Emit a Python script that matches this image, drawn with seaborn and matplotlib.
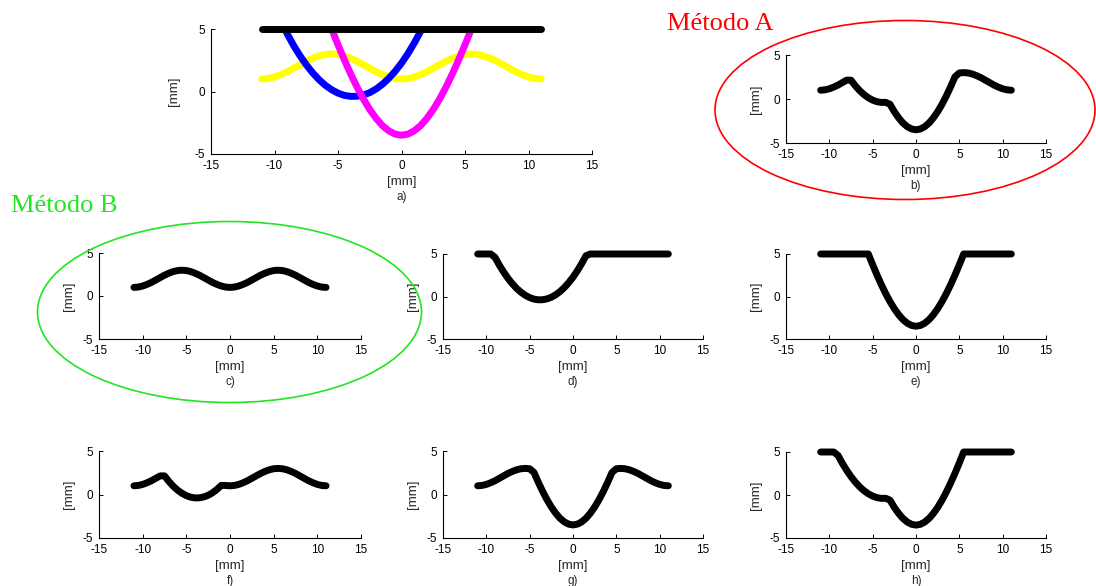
import numpy as np
import pandas as pd
import matplotlib
matplotlib.use("Agg")
import matplotlib.pyplot as plt
from matplotlib.patches import Ellipse
import seaborn as sns

# ---------------- data ----------------
nan = float("nan")
x_mm = [-11.0, -10.5, -10.0, -9.5, -9.0, -8.5, -8.0, -7.5, -7.0, -6.5, -6.0,
        -5.5, -5.0, -4.5, -4.0, -3.5, -3.0, -2.5, -2.0, -1.5, -1.0, -0.5,
        0.0, 0.5, 1.0, 1.5, 2.0, 2.5, 3.0, 3.5, 4.0, 4.5, 5.0, 5.5, 6.0,
        6.5, 7.0, 7.5, 8.0, 8.5, 9.0, 9.5, 10.0, 10.5, 11.0]

yellow_profile = [1.00, 1.04, 1.16, 1.35, 1.58, 1.86, 2.14, 2.42, 2.65, 2.84, 2.96,
                  3.00, 2.96, 2.84, 2.65, 2.42, 2.14, 1.86, 1.58, 1.35, 1.16, 1.04,
                  1.00, 1.04, 1.16, 1.35, 1.58, 1.86, 2.14, 2.42, 2.65, 2.84, 2.96,
                  3.00, 2.96, 2.84, 2.65, 2.42, 2.14, 1.86, 1.58, 1.35, 1.16, 1.04, 1.00]

blue_profile = [nan, nan, 6.72, 5.62, 4.61, 3.69, 2.87, 2.14, 1.50, 0.95, 0.50,
                0.14, -0.13, -0.31, -0.39, -0.38, -0.28, -0.09, 0.20, 0.58, 1.05, 1.62,
                2.27, 3.02, 3.87, 4.80, 5.83, nan, nan, nan, nan, nan, nan,
                nan, nan, nan, nan, nan, nan, nan, nan, nan, nan, nan, nan]

magenta_profile = [nan, nan, nan, nan, nan, nan, nan, nan, nan, nan, 6.32,
                   5.00, 3.74, 2.53, 1.40, 0.35, -0.60, -1.44, -2.15, -2.73, -3.15, -3.41,
                   -3.50, -3.41, -3.15, -2.73, -2.15, -1.44, -0.60, 0.35, 1.40, 2.53, 3.74,
                   5.00, 6.32, nan, nan, nan, nan, nan, nan, nan, nan, nan, nan]

black_profile = [5.0] * 45

profiles = {"yellow": yellow_profile, "blue": blue_profile,
            "magenta": magenta_profile, "black": black_profile}

# which profiles each panel combines (lower envelope)
panel_sources = {
    "b)": ["yellow", "blue", "magenta", "black"],
    "c)": ["yellow"],
    "d)": ["blue", "black"],
    "e)": ["magenta", "black"],
    "f)": ["yellow", "blue"],
    "g)": ["yellow", "magenta"],
    "h)": ["blue", "magenta", "black"],
}

x_ticks = [-15, -10, -5, 0, 5, 10, 15]
y_ticks = [-5, 0, 5]

# ---------------- layout / style ----------------
W, H = 1096, 586
# pixel boxes: left, top, right, bottom
boxes = {
    "a)": (211, 29, 592, 154),
    "b)": (786, 55, 1046, 143),
    "c)": (99, 253, 361, 339),
    "d)": (443, 254, 703, 339),
    "e)": (786, 254, 1046, 339),
    "f)": (99, 451, 361, 538),
    "g)": (443, 451, 703, 538),
    "h)": (786, 452, 1046, 538),
}
colors = {"yellow": "#ffff00", "blue": "#0000ff", "magenta": "#ff00ff", "black": "#000000"}

sns.set_style("ticks")
plt.rcParams["font.family"] = ["Liberation Sans", "DejaVu Sans"]
plt.rcParams["axes.unicode_minus"] = False

fig = plt.figure(figsize=(W / 100, H / 100), dpi=100)


def make_axes(name):
    l, t, r, b = boxes[name]
    ax = fig.add_axes([l / W, 1 - b / H, (r - l) / W, (b - t) / H])
    ax.set_xlim(-15, 15)
    ax.set_ylim(-5, 5)
    ax.set_xticks(x_ticks)
    ax.set_yticks(y_ticks)
    ax.tick_params(direction="in", length=3, width=0.7, labelsize=8.5, pad=4.5,
                   colors="black")
    for s in ["top", "right"]:
        ax.spines[s].set_visible(False)
    for s in ["left", "bottom"]:
        ax.spines[s].set_linewidth(0.8)
        ax.spines[s].set_color("black")
    return ax


def finish_labels(ax, name):
    l, t, r, b = boxes[name]
    hpx = b - t
    wpx = r - l
    ax.set_xlabel("[mm]", fontsize=9.5, va="center")
    ax.xaxis.set_label_coords(0.5, -28 / hpx)
    ax.set_ylabel("[mm]", fontsize=9.5, va="center")
    ax.yaxis.set_label_coords(-30 / wpx if name != "a)" else -37 / wpx, 0.5)
    ax.text(0.5, -43 / hpx, name, transform=ax.transAxes, ha="center",
            va="center", fontsize=8.5)


def draw(ax, yvals, color, clip):
    df = pd.DataFrame({"x": x_mm, "y": yvals}).dropna()
    sns.lineplot(data=df, x="x", y="y", ax=ax, color=color, linewidth=5,
                 solid_capstyle="round", solid_joinstyle="round", sort=False,
                 clip_on=clip, estimator=None)


# panel a: the four profiles
ax_a = make_axes("a)")
for key in ["yellow", "blue", "magenta", "black"]:
    draw(ax_a, profiles[key], colors[key], clip=(key != "black"))
finish_labels(ax_a, "a)")

# panels b..h: lower envelopes
for name, srcs in panel_sources.items():
    ax = make_axes(name)
    stack = np.array([profiles[s] for s in srcs], dtype=float)
    env = np.fmin.reduce(stack, axis=0)
    draw(ax, env, "black", clip=False)
    finish_labels(ax, name)

# ellipses and method labels
fig.add_artist(Ellipse((905 / W, 1 - 110 / H), 380 / W, 179 / H,
                       transform=fig.transFigure, fill=False,
                       edgecolor="#ff0000", linewidth=1.2))
fig.add_artist(Ellipse((229.5 / W, 1 - 312 / H), 384 / W, 181 / H,
                       transform=fig.transFigure, fill=False,
                       edgecolor="#22e622", linewidth=1.2))
fig.text(667 / W, 1 - 29.5 / H, "Método A", color="#ff0000", fontsize=19,
         family=["Liberation Serif", "DejaVu Serif"], va="baseline", ha="left")
fig.text(11 / W, 1 - 211.5 / H, "Método B", color="#22e622", fontsize=19,
         family=["Liberation Serif", "DejaVu Serif"], va="baseline", ha="left")

fig.savefig("out.png", dpi=100)
